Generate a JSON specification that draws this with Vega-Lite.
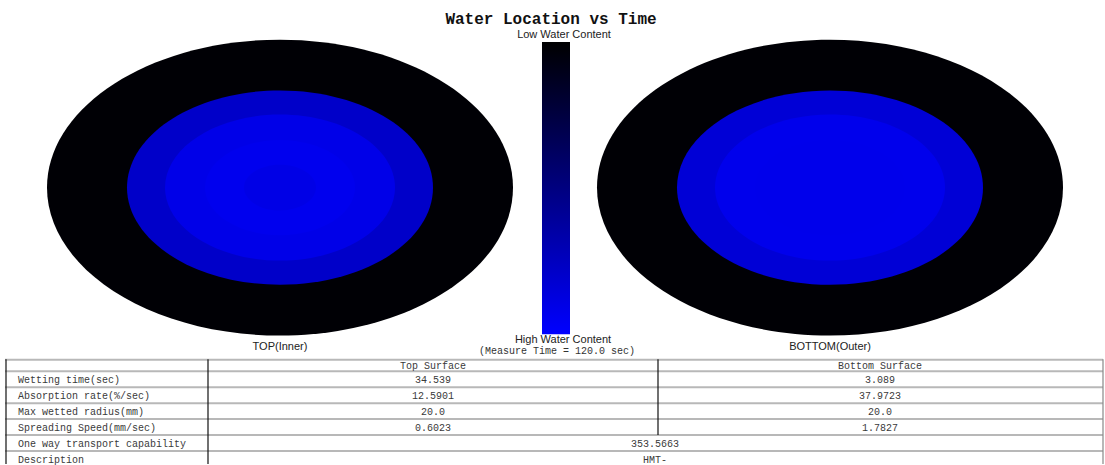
{
  "$schema": "https://vega.github.io/schema/vega-lite/v6.json",
  "width": 1105,
  "height": 465,
  "autosize": {"type": "fit", "contains": "padding"},
  "padding": 0,
  "background": "#ffffff",
  "config": {"view": {"stroke": null}},
  "layer": [
    {
      "data": {"values": [
        {"side": "TOP(Inner)", "cx": 280, "cy": 188, "rx": 233, "water": 0.02},
        {"side": "TOP(Inner)", "cx": 280, "cy": 188, "rx": 153, "water": 0.79},
        {"side": "TOP(Inner)", "cx": 280, "cy": 188, "rx": 115, "water": 0.91},
        {"side": "TOP(Inner)", "cx": 280, "cy": 188, "rx": 75, "water": 0.935},
        {"side": "TOP(Inner)", "cx": 280, "cy": 188, "rx": 36, "water": 0.9},
        {"side": "BOTTOM(Outer)", "cx": 830, "cy": 188, "rx": 233, "water": 0.02},
        {"side": "BOTTOM(Outer)", "cx": 830, "cy": 188, "rx": 153, "water": 0.84},
        {"side": "BOTTOM(Outer)", "cx": 830, "cy": 188, "rx": 115, "water": 0.925},
        {"side": "BOTTOM(Outer)", "cx": 830, "cy": 188, "rx": 75, "water": 0.92}
      ]},
      "mark": {"type": "point", "filled": true, "opacity": 1, "strokeWidth": 0,
               "shape": "M-1,0A1,0.635,0,1,0,1,0A1,0.635,0,1,0,-1,0Z"},
      "encoding": {
        "x": {"field": "cx", "type": "quantitative", "scale": {"domain": [0, 1105], "nice": false, "zero": false}, "axis": null},
        "y": {"field": "cy", "type": "quantitative", "scale": {"domain": [0, 465], "nice": false, "zero": false, "reverse": true}, "axis": null},
        "size": {"field": "rx", "type": "quantitative", "scale": {"type": "pow", "exponent": 2, "domain": [0, 233], "range": [0, 217156]}, "legend": null},
        "color": {"field": "water", "type": "quantitative", "scale": {"domain": [0, 1], "range": ["#000000", "#0000ff"], "interpolate": "rgb"}, "legend": null},
        "order": {"field": "rx", "type": "quantitative", "sort": "descending"}
      }
    },
    {
      "data": {"values": [{"x": 542, "x2": 570, "y": 42, "y2": 335}]},
      "mark": {"type": "rect", "fill": {"gradient": "linear", "x1": 0, "y1": 0, "x2": 0, "y2": 1,
        "stops": [{"offset": 0, "color": "#000000"}, {"offset": 1, "color": "#0000ff"}]}},
      "encoding": {
        "x": {"field": "x", "type": "quantitative", "axis": null},
        "x2": {"field": "x2"},
        "y": {"field": "y", "type": "quantitative", "axis": null},
        "y2": {"field": "y2"}
      }
    },
    {
      "data": {"values": [{"label": "Water Location vs Time", "x": 551, "y": 19}]},
      "mark": {"type": "text", "font": "Liberation Mono", "fontSize": 16, "fontWeight": "bold", "color": "#111111", "align": "center", "baseline": "middle"},
      "encoding": {
        "x": {"field": "x", "type": "quantitative", "axis": null},
        "y": {"field": "y", "type": "quantitative", "axis": null},
        "text": {"field": "label"}
      }
    },
    {
      "data": {"values": [
        {"label": "Low Water Content", "x": 564, "y": 35},
        {"label": "High Water Content", "x": 563, "y": 341},
        {"label": "TOP(Inner)", "x": 280, "y": 348},
        {"label": "BOTTOM(Outer)", "x": 830, "y": 348}
      ]},
      "mark": {"type": "text", "font": "Liberation Sans", "fontSize": 11, "color": "#222222", "align": "center", "baseline": "middle"},
      "encoding": {
        "x": {"field": "x", "type": "quantitative", "axis": null},
        "y": {"field": "y", "type": "quantitative", "axis": null},
        "text": {"field": "label"}
      }
    },
    {
      "data": {"values": [{"label": "(Measure Time = 120.0 sec)", "x": 557, "y": 352}]},
      "mark": {"type": "text", "font": "Liberation Mono", "fontSize": 10, "color": "#333333", "align": "center", "baseline": "middle"},
      "encoding": {
        "x": {"field": "x", "type": "quantitative", "axis": null},
        "y": {"field": "y", "type": "quantitative", "axis": null},
        "text": {"field": "label"}
      }
    },
    {
      "data": {"values": [
        {"y": 360.5}, {"y": 372}, {"y": 388}, {"y": 404}, {"y": 420}, {"y": 436}, {"y": 452}
      ]},
      "mark": {"type": "rule", "color": "#b8b8b8", "strokeWidth": 2},
      "encoding": {
        "x": {"datum": 5, "type": "quantitative", "axis": null},
        "x2": {"datum": 1103},
        "y": {"field": "y", "type": "quantitative", "axis": null}
      }
    },
    {
      "data": {"values": [
        {"x": 6, "y": 360, "y2": 465, "kind": "frame"},
        {"x": 208, "y": 360, "y2": 465, "kind": "frame"},
        {"x": 658, "y": 360, "y2": 436, "kind": "frame"},
        {"x": 1103, "y": 360, "y2": 465, "kind": "edge"}
      ]},
      "mark": {"type": "rule", "strokeWidth": 1.2},
      "encoding": {
        "x": {"field": "x", "type": "quantitative", "axis": null},
        "y": {"field": "y", "type": "quantitative", "axis": null},
        "y2": {"field": "y2"},
        "color": {"field": "kind", "type": "nominal", "scale": {"domain": ["frame", "edge"], "range": ["#111111", "#888888"]}, "legend": null}
      }
    },
    {
      "data": {"values": [
        {"label": "Wetting time(sec)", "y": 380.5},
        {"label": "Absorption rate(%/sec)", "y": 396.5},
        {"label": "Max wetted radius(mm)", "y": 412.5},
        {"label": "Spreading Speed(mm/sec)", "y": 428.5},
        {"label": "One way transport capability", "y": 444.5},
        {"label": "Description", "y": 460.5}
      ]},
      "mark": {"type": "text", "font": "Liberation Mono", "fontSize": 10, "color": "#3a3a3a", "align": "left", "baseline": "middle"},
      "encoding": {
        "x": {"datum": 18, "type": "quantitative", "axis": null},
        "y": {"field": "y", "type": "quantitative", "axis": null},
        "text": {"field": "label"}
      }
    },
    {
      "data": {"values": [
        {"label": "Top Surface", "x": 433, "y": 366.5},
        {"label": "Bottom Surface", "x": 880, "y": 366.5},
        {"label": "34.539", "x": 433, "y": 380.5},
        {"label": "12.5901", "x": 433, "y": 396.5},
        {"label": "20.0", "x": 433, "y": 412.5},
        {"label": "0.6023", "x": 433, "y": 428.5},
        {"label": "3.089", "x": 880, "y": 380.5},
        {"label": "37.9723", "x": 880, "y": 396.5},
        {"label": "20.0", "x": 880, "y": 412.5},
        {"label": "1.7827", "x": 880, "y": 428.5},
        {"label": "353.5663", "x": 655, "y": 444.5},
        {"label": "HMT-", "x": 655, "y": 460.5}
      ]},
      "mark": {"type": "text", "font": "Liberation Mono", "fontSize": 10, "color": "#3a3a3a", "align": "center", "baseline": "middle"},
      "encoding": {
        "x": {"field": "x", "type": "quantitative", "axis": null},
        "y": {"field": "y", "type": "quantitative", "axis": null},
        "text": {"field": "label"}
      }
    }
  ]
}
